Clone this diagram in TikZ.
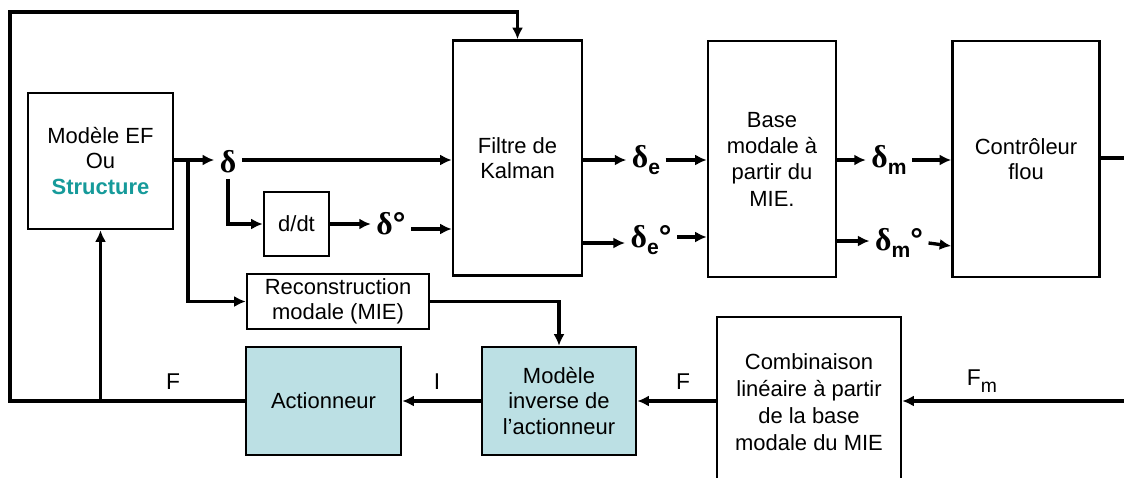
\documentclass[tikz,border=0pt]{standalone}
\usepackage{fontspec}
\setmainfont{Liberation Sans}
\newfontfamily\symfont{Liberation Serif}
\usepackage{tikz}
\usetikzlibrary{arrows.meta,positioning}
\definecolor{boxteal}{HTML}{BCE0E4}
\definecolor{structteal}{HTML}{169A9A}
\newcommand{\dsym}{{\symfont\bfseries δ}}
\newcommand{\dsub}[1]{\dsym\raisebox{-0.45ex}{\bfseries\fontsize{12}{13}\selectfont #1}}

\begin{document}
\begin{tikzpicture}[
  x=0.02cm, y=-0.02cm,
  font=\fontsize{12.5}{14.5}\selectfont,
  block/.style={draw,line width=1.5pt,align=center,inner sep=2pt},
  actbox/.style={block,fill=boxteal},
  sig/.style={font=\fontsize{18}{20}\selectfont\bfseries,inner sep=3pt},
  lbl/.style={font=\fontsize{13}{15}\selectfont,inner sep=1pt},
  line/.style={line width=1.9pt},
  arrow/.style={line,-{Latex[length=2.3mm,width=2.2mm]}}
]
\useasboundingbox (0,0) rectangle (1124,477);

% upper chain
\node[block,minimum width=2.9cm,minimum height=2.72cm] (model) at (100.5,161)
  {Modèle EF\\Ou\\\textcolor{structteal}{\textbf{Structure}}};
\node[block,minimum width=2.58cm,minimum height=4.7cm] (kalman) at (517.5,158) {Filtre de\\Kalman};
\node[block,minimum width=2.56cm,minimum height=4.72cm,font=\fontsize{12.5}{15}\selectfont] (base) at (772,159)
  {Base\\modale à\\partir du\\MIE.};
\node[block,minimum width=2.94cm,minimum height=4.72cm] (flou) at (1026,159) {Contrôleur\\flou};
\node[block,minimum width=1.3cm,minimum height=1.28cm] (ddt) at (296.5,224) {d/dt};

% signals
\node[sig] (d) at (228,162) {\dsym};
\node[sig] (dp) at (391,224) {\dsym°};
\node[sig] (de) at (646,160) {\dsub{e}};
\node[sig] (dep) at (651,240) {\dsub{e}°};
\node[sig] (dm) at (889,160) {\dsub{m}};
\node[sig] (dmp) at (899,243) {\dsub{m}°};

% lower chain
\node[block,minimum width=3.64cm,minimum height=1.1cm] (recon) at (338,301.5) {Reconstruction\\modale (MIE)};
\node[actbox,minimum width=3.1cm,minimum height=2.16cm] (act) at (323.5,401) {Actionneur};
\node[actbox,minimum width=3.08cm,minimum height=2.16cm] (inv) at (559,401) {Modèle\\inverse de\\l’actionneur};
\node[block,minimum width=3.68cm,minimum height=3.4cm,font=\fontsize{12.5}{15.4}\selectfont] (comb) at (809,402)
  {Combinaison\\linéaire à partir\\de la base\\modale du MIE};

\node[lbl] (lF) at (173,382) {F};
\node[lbl] (lI) at (437,382) {I};
\node[lbl] (lF2) at (683,382) {F};
\node[lbl] (lFm) at (982,381) {F\raisebox{-0.55ex}{\fontsize{11}{12}\selectfont m}};

\coordinate (br) at (188,160);
\coordinate (ltop) at (10,12);
\coordinate (fb) at (model.south |- act.west);
\coordinate (rout) at (1124,158);
\coordinate (rin) at (1124,401);

% connectors
\draw[arrow] (model.east |- br) -- (d.west |- br);
\draw[arrow] (d.east |- br) -- (kalman.west |- br);
\draw[arrow] (d.south) |- (ddt.west);
\draw[arrow] (ddt.east |- dp) -- (dp);
\draw[arrow] ([yshift=-0.1cm]dp.east) -- ([yshift=-0.1cm]kalman.west |- dp);
\draw[arrow] (br) |- (recon.west);
\draw[arrow] (kalman.east |- de) -- (de);
\draw[arrow] (de) -- (base.west |- de);
\draw[arrow] ([yshift=-0.06cm]kalman.east |- dep) -- ([yshift=-0.06cm]dep.west);
\draw[arrow] ([yshift=0.06cm]dep.east) -- ([yshift=0.06cm]base.west |- dep);
\draw[arrow] ([yshift=0.04cm]base.east |- dmp) -- ([yshift=0.04cm]dmp.west);
\draw[arrow] (dmp.east) -- ([yshift=-0.06cm]flou.west |- dmp);
\draw[arrow] (base.east |- dm) -- (dm);
\draw[arrow] (dm) -- (flou.west |- dm);
\draw[line] (flou.east |- rout) -- (rout);
\draw[arrow] (recon.east) -| (inv.north);
\draw[arrow] (inv.west) -- (act.east);
\draw[arrow] (comb.west |- inv) -- (inv.east);
\draw[arrow] (rin) -- (comb.east |- rin);
\draw[arrow] (act.west) -| (ltop) -| (kalman.north);
\draw[arrow] (fb) -- (model.south);
\end{tikzpicture}
\end{document}
